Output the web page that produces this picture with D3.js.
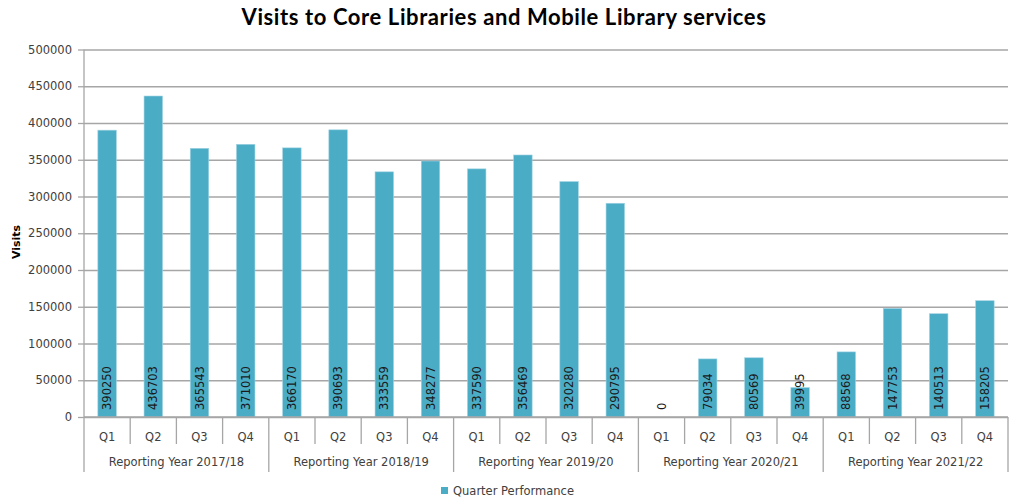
<!DOCTYPE html>
<html>
<head>
<meta charset="utf-8">
<script src="https://cdn.jsdelivr.net/npm/d3@7"></script>
<style>
  html, body { margin: 0; padding: 0; background: #ffffff; }
  svg { display: block; }
</style>
</head>
<body>
<svg id="chart" width="1012" height="500"></svg>
<script>
// Quarterly visits, grouped by reporting year
const years = ["Reporting Year 2017/18", "Reporting Year 2018/19", "Reporting Year 2019/20",
               "Reporting Year 2020/21", "Reporting Year 2021/22"];
const quarters = ["Q1", "Q2", "Q3", "Q4"];
const visits = [
  390250, 436703, 365543, 371010,
  366170, 390693, 333559, 348277,
  337590, 356469, 320280, 290795,
  0, 79034, 80569, 39995,
  88568, 147753, 140513, 158205
];
const yTicks = [0, 50000, 100000, 150000, 200000, 250000, 300000, 350000, 400000, 450000, 500000];
const seriesName = "Quarter Performance";
const chartTitle = "Visits to Core Libraries and Mobile Library services";
const yTitle = "Visits";

const rows = visits.map((v, i) => ({
  key: i,
  year: years[Math.floor(i / 4)],
  quarter: quarters[i % 4],
  value: v
}));

const svg = d3.select("#chart");
const margin = { left: 84, right: 1008, top: 49.5, bottom: 417 };
const barColor = "#4bacc6";
const gridColor = "#a6a6a6";
const textColor = "#404040";
const font = "'DejaVu Sans', sans-serif";

const x = d3.scaleBand()
  .domain(rows.map(d => d.key))
  .range([margin.left, margin.right])
  .paddingInner(0.6)
  .paddingOuter(0.3);

const xOuter = d3.scaleBand()
  .domain(rows.map(d => d.key))
  .range([margin.left, margin.right]);

const y = d3.scaleLinear()
  .domain([0, 500000])
  .range([margin.bottom, margin.top]);

// Title
svg.append("text")
  .attr("x", 504)
  .attr("y", 25)
  .attr("text-anchor", "middle")
  .attr("font-family", "Lato, 'Open Sans', sans-serif")
  .attr("font-weight", "bold")
  .attr("font-size", 22)
  .attr("letter-spacing", 0.6)
  .attr("fill", "#000")
  .text(chartTitle);

// Gridlines + y tick labels
const yAxis = d3.axisLeft(y)
  .tickValues(yTicks)
  .tickSize(-(margin.right - margin.left))
  .tickPadding(12)
  .tickFormat(d3.format("d"));

const gy = svg.append("g")
  .attr("transform", `translate(${margin.left},0)`)
  .call(yAxis);
gy.select(".domain").remove();
gy.selectAll(".tick line").attr("stroke", gridColor).attr("stroke-width", 1.3);
gy.selectAll(".tick text")
  .attr("font-family", font)
  .attr("font-size", 11.5)
  .attr("fill", textColor);
// short tick marks outside the axis
gy.selectAll(".tick").append("line")
  .attr("x1", -6).attr("x2", 0)
  .attr("stroke", gridColor).attr("stroke-width", 1.3);

// Y axis title
svg.append("text")
  .attr("transform", `translate(20,242) rotate(-90)`)
  .attr("text-anchor", "middle")
  .attr("font-family", font)
  .attr("font-weight", "bold")
  .attr("font-size", 11)
  .attr("fill", "#000")
  .text(yTitle);

// Left axis line running down through the category labels
svg.append("line")
  .attr("x1", margin.left).attr("x2", margin.left)
  .attr("y1", margin.top).attr("y2", 472)
  .attr("stroke", gridColor).attr("stroke-width", 1.3);

// Bars
svg.append("g").selectAll("rect")
  .data(rows)
  .join("rect")
  .attr("x", d => x(d.key))
  .attr("width", x.bandwidth())
  .attr("y", d => y(d.value))
  .attr("height", d => y(0) - y(d.value))
  .attr("fill", barColor)
  .attr("stroke", "#9fd3e2")
  .attr("stroke-width", 0.6);

// Value labels, rotated inside the bar base
svg.append("g").selectAll("text")
  .data(rows)
  .join("text")
  .attr("transform", d => `translate(${x(d.key) + x.bandwidth() / 2 + 4},${y(0) - 7}) rotate(-90)`)
  .attr("text-anchor", "start")
  .attr("font-family", font)
  .attr("font-size", 11.5)
  .attr("fill", "#1a1a1a")
  .text(d => d.value);

// Category axis baseline
svg.append("line")
  .attr("x1", margin.left).attr("x2", margin.right)
  .attr("y1", y(0)).attr("y2", y(0))
  .attr("stroke", gridColor).attr("stroke-width", 1.3);

// Quarter separators and labels
const cat = svg.append("g");
rows.forEach((d, i) => {
  const left = xOuter(d.key);
  if (i % 4 !== 0) {
    cat.append("line")
      .attr("x1", left).attr("x2", left)
      .attr("y1", y(0)).attr("y2", 444)
      .attr("stroke", gridColor).attr("stroke-width", 1.3);
  }
  cat.append("text")
    .attr("x", left + xOuter.bandwidth() / 2)
    .attr("y", 441)
    .attr("text-anchor", "middle")
    .attr("font-family", font)
    .attr("font-size", 11.5)
    .attr("fill", textColor)
    .text(d.quarter);
});

// Year separators and labels
years.forEach((yr, j) => {
  const left = xOuter(j * 4);
  const right = j === years.length - 1 ? margin.right : xOuter(j * 4 + 4);
  cat.append("line")
    .attr("x1", right).attr("x2", right)
    .attr("y1", y(0)).attr("y2", 472)
    .attr("stroke", gridColor).attr("stroke-width", 1.3);
  cat.append("text")
    .attr("x", (left + right) / 2)
    .attr("y", 466)
    .attr("text-anchor", "middle")
    .attr("font-family", font)
    .attr("font-size", 11.5)
    .attr("fill", textColor)
    .text(yr);
});

// Legend
const legend = svg.append("g").attr("transform", "translate(441,487)");
legend.append("rect")
  .attr("width", 7).attr("height", 7)
  .attr("fill", barColor);
legend.append("text")
  .attr("x", 12).attr("y", 7.5)
  .attr("font-family", font)
  .attr("font-size", 11.5)
  .attr("fill", textColor)
  .text(seriesName);
</script>
</body>
</html>
